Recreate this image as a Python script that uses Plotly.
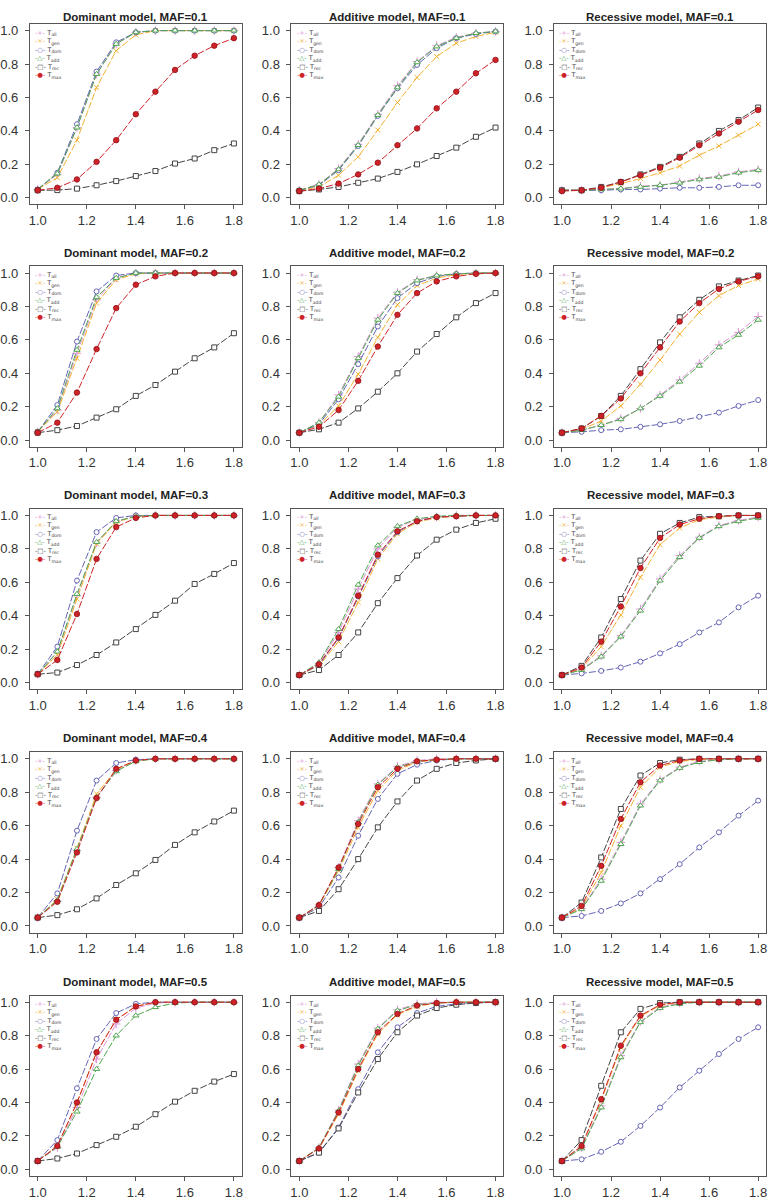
import plotly.graph_objects as go

# effect size (x axis) shared by every panel
x_vals = [1.0, 1.08, 1.16, 1.24, 1.32, 1.4, 1.48, 1.56, 1.64, 1.72, 1.8]

# power of each test, one dict per panel
dom_01 = dict(
    all=[0.05, 0.14, 0.42, 0.74, 0.92, 0.99, 1.0, 1.0, 1.0, 1.0, 1.0],
    gen=[0.05, 0.12, 0.345, 0.66, 0.88, 0.975, 1.0, 1.0, 1.0, 1.0, 1.0],
    dom=[0.05, 0.15, 0.44, 0.755, 0.93, 0.99, 1.0, 1.0, 1.0, 1.0, 1.0],
    add=[0.05, 0.145, 0.42, 0.74, 0.92, 0.99, 1.0, 1.0, 1.0, 1.0, 1.0],
    rec=[0.045, 0.046, 0.055, 0.075, 0.10, 0.13, 0.16, 0.205, 0.235, 0.285, 0.325],
    max=[0.045, 0.06, 0.11, 0.215, 0.345, 0.50, 0.635, 0.765, 0.85, 0.91, 0.955],
)
add_01 = dict(
    all=[0.045, 0.08, 0.175, 0.32, 0.50, 0.67, 0.815, 0.91, 0.96, 0.985, 0.995],
    gen=[0.045, 0.065, 0.135, 0.245, 0.405, 0.57, 0.72, 0.845, 0.925, 0.965, 0.99],
    dom=[0.045, 0.075, 0.165, 0.31, 0.49, 0.655, 0.795, 0.895, 0.955, 0.98, 0.995],
    add=[0.045, 0.08, 0.17, 0.315, 0.495, 0.66, 0.81, 0.905, 0.955, 0.985, 0.995],
    rec=[0.04, 0.05, 0.065, 0.09, 0.115, 0.155, 0.20, 0.25, 0.30, 0.365, 0.42],
    max=[0.04, 0.055, 0.085, 0.14, 0.21, 0.315, 0.415, 0.535, 0.635, 0.745, 0.825],
)
rec_01 = dict(
    all=[0.045, 0.045, 0.05, 0.055, 0.07, 0.075, 0.095, 0.115, 0.13, 0.155, 0.17],
    gen=[0.045, 0.045, 0.06, 0.085, 0.115, 0.15, 0.19, 0.255, 0.31, 0.375, 0.44],
    dom=[0.045, 0.045, 0.045, 0.05, 0.05, 0.055, 0.06, 0.06, 0.065, 0.075, 0.075],
    add=[0.045, 0.045, 0.05, 0.055, 0.065, 0.075, 0.09, 0.11, 0.125, 0.15, 0.165],
    rec=[0.045, 0.045, 0.065, 0.095, 0.14, 0.185, 0.245, 0.325, 0.40, 0.465, 0.54],
    max=[0.04, 0.045, 0.06, 0.095, 0.135, 0.18, 0.24, 0.315, 0.385, 0.455, 0.525],
)
dom_02 = dict(
    all=[0.05, 0.18, 0.52, 0.84, 0.97, 1.0, 1.0, 1.0, 1.0, 1.0, 1.0],
    gen=[0.05, 0.17, 0.49, 0.82, 0.96, 0.995, 1.0, 1.0, 1.0, 1.0, 1.0],
    dom=[0.05, 0.21, 0.59, 0.89, 0.985, 1.0, 1.0, 1.0, 1.0, 1.0, 1.0],
    add=[0.05, 0.19, 0.54, 0.855, 0.97, 1.0, 1.0, 1.0, 1.0, 1.0, 1.0],
    rec=[0.045, 0.06, 0.085, 0.135, 0.185, 0.265, 0.33, 0.41, 0.49, 0.555, 0.64],
    max=[0.045, 0.105, 0.285, 0.545, 0.79, 0.93, 0.98, 1.0, 1.0, 1.0, 1.0],
)
add_02 = dict(
    all=[0.045, 0.105, 0.27, 0.50, 0.73, 0.885, 0.96, 0.985, 0.995, 1.0, 1.0],
    gen=[0.045, 0.09, 0.205, 0.395, 0.615, 0.81, 0.925, 0.97, 0.99, 1.0, 1.0],
    dom=[0.045, 0.095, 0.245, 0.455, 0.68, 0.85, 0.94, 0.98, 0.995, 1.0, 1.0],
    add=[0.045, 0.105, 0.26, 0.49, 0.72, 0.88, 0.955, 0.985, 0.995, 1.0, 1.0],
    rec=[0.045, 0.065, 0.105, 0.19, 0.29, 0.40, 0.53, 0.635, 0.735, 0.82, 0.88],
    max=[0.045, 0.08, 0.18, 0.355, 0.56, 0.75, 0.88, 0.95, 0.98, 0.995, 1.0],
)
rec_02 = dict(
    all=[0.045, 0.06, 0.09, 0.13, 0.19, 0.27, 0.36, 0.46, 0.57, 0.645, 0.74],
    gen=[0.045, 0.065, 0.115, 0.205, 0.335, 0.48, 0.635, 0.765, 0.865, 0.925, 0.965],
    dom=[0.045, 0.05, 0.06, 0.065, 0.08, 0.095, 0.115, 0.14, 0.165, 0.205, 0.24],
    add=[0.045, 0.06, 0.09, 0.125, 0.19, 0.265, 0.35, 0.445, 0.555, 0.63, 0.72],
    rec=[0.045, 0.07, 0.145, 0.265, 0.425, 0.585, 0.735, 0.84, 0.92, 0.955, 0.985],
    max=[0.045, 0.07, 0.145, 0.25, 0.40, 0.555, 0.71, 0.82, 0.905, 0.95, 0.98],
)
dom_03 = dict(
    all=[0.05, 0.18, 0.52, 0.835, 0.965, 0.995, 1.0, 1.0, 1.0, 1.0, 1.0],
    gen=[0.05, 0.165, 0.50, 0.83, 0.96, 0.995, 1.0, 1.0, 1.0, 1.0, 1.0],
    dom=[0.05, 0.215, 0.61, 0.90, 0.985, 1.0, 1.0, 1.0, 1.0, 1.0, 1.0],
    add=[0.05, 0.185, 0.53, 0.84, 0.965, 0.995, 1.0, 1.0, 1.0, 1.0, 1.0],
    rec=[0.05, 0.06, 0.105, 0.165, 0.24, 0.32, 0.405, 0.49, 0.59, 0.65, 0.715],
    max=[0.05, 0.135, 0.41, 0.74, 0.93, 0.985, 1.0, 1.0, 1.0, 1.0, 1.0],
)
add_03 = dict(
    all=[0.045, 0.115, 0.30, 0.56, 0.80, 0.93, 0.975, 0.99, 1.0, 1.0, 1.0],
    gen=[0.045, 0.10, 0.245, 0.48, 0.74, 0.89, 0.96, 0.985, 0.995, 1.0, 1.0],
    dom=[0.045, 0.105, 0.265, 0.515, 0.755, 0.90, 0.965, 0.99, 0.995, 1.0, 1.0],
    add=[0.045, 0.12, 0.32, 0.585, 0.82, 0.935, 0.98, 0.995, 1.0, 1.0, 1.0],
    rec=[0.045, 0.075, 0.165, 0.30, 0.475, 0.625, 0.76, 0.855, 0.915, 0.955, 0.98],
    max=[0.045, 0.11, 0.27, 0.52, 0.765, 0.905, 0.965, 0.99, 0.995, 1.0, 1.0],
)
rec_03 = dict(
    all=[0.045, 0.08, 0.16, 0.28, 0.44, 0.62, 0.76, 0.87, 0.94, 0.97, 0.99],
    gen=[0.045, 0.085, 0.215, 0.405, 0.63, 0.825, 0.925, 0.975, 0.99, 1.0, 1.0],
    dom=[0.045, 0.055, 0.07, 0.09, 0.125, 0.175, 0.23, 0.30, 0.36, 0.45, 0.52],
    add=[0.045, 0.075, 0.155, 0.275, 0.43, 0.61, 0.75, 0.865, 0.935, 0.965, 0.985],
    rec=[0.045, 0.10, 0.27, 0.50, 0.73, 0.89, 0.955, 0.99, 0.995, 1.0, 1.0],
    max=[0.045, 0.09, 0.245, 0.455, 0.685, 0.865, 0.945, 0.98, 0.995, 1.0, 1.0],
)
dom_04 = dict(
    all=[0.05, 0.15, 0.45, 0.77, 0.93, 0.99, 1.0, 1.0, 1.0, 1.0, 1.0],
    gen=[0.05, 0.16, 0.465, 0.79, 0.935, 0.99, 1.0, 1.0, 1.0, 1.0, 1.0],
    dom=[0.05, 0.195, 0.57, 0.87, 0.975, 0.995, 1.0, 1.0, 1.0, 1.0, 1.0],
    add=[0.05, 0.155, 0.46, 0.77, 0.925, 0.985, 1.0, 1.0, 1.0, 1.0, 1.0],
    rec=[0.05, 0.065, 0.10, 0.165, 0.245, 0.315, 0.395, 0.485, 0.56, 0.625, 0.69],
    max=[0.05, 0.145, 0.44, 0.765, 0.94, 0.99, 1.0, 1.0, 1.0, 1.0, 1.0],
)
add_04 = dict(
    all=[0.05, 0.125, 0.35, 0.63, 0.85, 0.955, 0.99, 1.0, 1.0, 1.0, 1.0],
    gen=[0.05, 0.12, 0.33, 0.59, 0.81, 0.93, 0.98, 0.995, 1.0, 1.0, 1.0],
    dom=[0.05, 0.11, 0.29, 0.54, 0.76, 0.91, 0.965, 0.99, 1.0, 1.0, 1.0],
    add=[0.05, 0.125, 0.34, 0.62, 0.845, 0.95, 0.985, 0.995, 1.0, 1.0, 1.0],
    rec=[0.05, 0.09, 0.22, 0.40, 0.59, 0.745, 0.87, 0.94, 0.975, 0.99, 1.0],
    max=[0.05, 0.125, 0.35, 0.61, 0.83, 0.94, 0.985, 0.995, 1.0, 1.0, 1.0],
)
rec_04 = dict(
    all=[0.05, 0.105, 0.28, 0.50, 0.73, 0.875, 0.95, 0.985, 0.995, 1.0, 1.0],
    gen=[0.05, 0.11, 0.32, 0.60, 0.83, 0.95, 0.985, 0.995, 1.0, 1.0, 1.0],
    dom=[0.05, 0.06, 0.09, 0.135, 0.195, 0.28, 0.37, 0.47, 0.56, 0.66, 0.75],
    add=[0.05, 0.10, 0.27, 0.49, 0.72, 0.87, 0.945, 0.98, 0.995, 1.0, 1.0],
    rec=[0.05, 0.14, 0.41, 0.70, 0.90, 0.975, 0.995, 1.0, 1.0, 1.0, 1.0],
    max=[0.05, 0.12, 0.36, 0.64, 0.86, 0.96, 0.99, 1.0, 1.0, 1.0, 1.0],
)
dom_05 = dict(
    all=[0.05, 0.13, 0.37, 0.66, 0.87, 0.965, 0.995, 1.0, 1.0, 1.0, 1.0],
    gen=[0.05, 0.14, 0.395, 0.70, 0.895, 0.975, 1.0, 1.0, 1.0, 1.0, 1.0],
    dom=[0.05, 0.175, 0.485, 0.78, 0.935, 0.99, 1.0, 1.0, 1.0, 1.0, 1.0],
    add=[0.05, 0.135, 0.345, 0.60, 0.80, 0.92, 0.97, 0.995, 1.0, 1.0, 1.0],
    rec=[0.05, 0.065, 0.095, 0.145, 0.195, 0.255, 0.33, 0.405, 0.47, 0.525, 0.57],
    max=[0.05, 0.14, 0.40, 0.70, 0.895, 0.975, 1.0, 1.0, 1.0, 1.0, 1.0],
)
add_05 = dict(
    all=[0.05, 0.13, 0.355, 0.63, 0.845, 0.955, 0.99, 1.0, 1.0, 1.0, 1.0],
    gen=[0.05, 0.125, 0.33, 0.59, 0.81, 0.925, 0.975, 0.995, 1.0, 1.0, 1.0],
    dom=[0.05, 0.10, 0.25, 0.48, 0.70, 0.85, 0.935, 0.975, 0.99, 1.0, 1.0],
    add=[0.05, 0.13, 0.35, 0.62, 0.84, 0.95, 0.985, 0.995, 1.0, 1.0, 1.0],
    rec=[0.05, 0.10, 0.245, 0.46, 0.66, 0.82, 0.92, 0.965, 0.985, 0.995, 1.0],
    max=[0.05, 0.125, 0.34, 0.60, 0.82, 0.93, 0.98, 0.995, 1.0, 1.0, 1.0],
)
rec_05 = dict(
    all=[0.05, 0.13, 0.38, 0.68, 0.885, 0.97, 0.995, 1.0, 1.0, 1.0, 1.0],
    gen=[0.05, 0.14, 0.41, 0.73, 0.915, 0.98, 1.0, 1.0, 1.0, 1.0, 1.0],
    dom=[0.05, 0.06, 0.105, 0.165, 0.26, 0.37, 0.49, 0.59, 0.69, 0.78, 0.85],
    add=[0.05, 0.125, 0.37, 0.67, 0.88, 0.965, 0.99, 1.0, 1.0, 1.0, 1.0],
    rec=[0.05, 0.175, 0.50, 0.82, 0.96, 0.995, 1.0, 1.0, 1.0, 1.0, 1.0],
    max=[0.05, 0.14, 0.42, 0.74, 0.92, 0.985, 1.0, 1.0, 1.0, 1.0, 1.0],
)

# panels in row-major order
panels = [
    ("Dominant model, MAF=0.1", dom_01), ("Additive model, MAF=0.1", add_01), ("Recessive model, MAF=0.1", rec_01),
    ("Dominant model, MAF=0.2", dom_02), ("Additive model, MAF=0.2", add_02), ("Recessive model, MAF=0.2", rec_02),
    ("Dominant model, MAF=0.3", dom_03), ("Additive model, MAF=0.3", add_03), ("Recessive model, MAF=0.3", rec_03),
    ("Dominant model, MAF=0.4", dom_04), ("Additive model, MAF=0.4", add_04), ("Recessive model, MAF=0.4", rec_04),
    ("Dominant model, MAF=0.5", dom_05), ("Additive model, MAF=0.5", add_05), ("Recessive model, MAF=0.5", rec_05),
]

series = ["all", "gen", "dom", "add", "rec", "max"]

# estilos de cada test
colors = {
    "all": "#dc92d6",
    "gen": "#f2b233",
    "dom": "#6565b5",
    "add": "#4fa64f",
    "rec": "#444444",
    "max": "#cf2228",
}
markers = {
    "all": dict(symbol="cross-thin-open", size=6, color=colors["all"], line=dict(width=1, color=colors["all"])),
    "gen": dict(symbol="x-thin-open", size=5, color=colors["gen"], line=dict(width=1, color=colors["gen"])),
    "dom": dict(symbol="circle", size=5, color="white", line=dict(width=1, color=colors["dom"])),
    "add": dict(symbol="triangle-up", size=5.5, color="white", line=dict(width=1, color=colors["add"])),
    "rec": dict(symbol="square", size=5, color="white", line=dict(width=1, color=colors["rec"])),
    "max": dict(symbol="circle", size=5.5, color=colors["max"], line=dict(width=0.8, color="#8e1015")),
}
glyphs = {"all": "-+-", "gen": "-×-", "dom": "-○-", "add": "-△-", "rec": "-□-", "max": "-●-"}

W, H = 768, 1200
col_px = [(27, 240), (290, 503), (554, 767)]
row_px = [(23, 204), (266, 447), (509, 690), (753, 934), (997, 1178)]
title_gap = [7, 13, 14, 14, 14]

axis_common = dict(
    showline=True, mirror=True, linecolor="#555555", linewidth=1,
    ticks="outside", ticklen=4, tickwidth=1, tickcolor="#555555",
    showgrid=False, zeroline=False, tickformat=".1f",
    tickfont=dict(family="Liberation Sans, Arial", size=13, color="#333333"),
)

fig = go.Figure()

legend_text = "<br>".join(
    f"<span style='color:{colors[s]}'>{glyphs[s]}</span> T<sub>{s}</sub>" for s in series
)

for i, (title, data) in enumerate(panels):
    r, c = divmod(i, 3)
    n = "" if i == 0 else str(i + 1)
    xa, ya = "x" + n, "y" + n
    for s in series:
        fig.add_trace(go.Scatter(
            x=x_vals, y=data[s], xaxis=xa, yaxis=ya,
            mode="lines+markers", name="T_" + s, showlegend=False,
            line=dict(color=colors[s], width=1, dash="7px,2px"),
            marker=markers[s],
        ))
    x0, x1 = col_px[c]
    y0, y1 = row_px[r]
    fig.update_layout({
        "xaxis" + n: dict(axis_common, domain=[x0 / W, x1 / W], anchor=ya,
                          range=[0.968, 1.832], tick0=1.0, dtick=0.2),
        "yaxis" + n: dict(axis_common, domain=[1 - y1 / H, 1 - y0 / H], anchor=xa,
                          range=[-0.04, 1.04], tick0=0, dtick=0.2,
                          ticklabelstandoff=4),
    })
    fig.add_annotation(
        text=f"<b>{title}</b>", xref="paper", yref="paper",
        x=(x0 + x1) / 2 / W, y=1 - (y0 - title_gap[r]) / H,
        xanchor="center", yanchor="middle", showarrow=False,
        font=dict(family="Liberation Sans, Arial", size=11.5, color="#222222"),
    )
    fig.add_annotation(
        text=legend_text, xref=xa + " domain", yref=ya + " domain",
        x=0.015, y=0.985, xanchor="left", yanchor="top", align="left",
        showarrow=False,
        font=dict(family="DejaVu Sans", size=6.5, color="#444444"),
    )

fig.update_layout(
    width=W, height=H,
    margin=dict(l=0, r=0, t=0, b=0),
    paper_bgcolor="white", plot_bgcolor="white",
    showlegend=False,
)

# sin margen del body para que la figura ocupe toda la ventana
fig.write_html(
    "out.html",
    config={"displayModeBar": False},
    post_script="document.body.style.margin='0';",
)
